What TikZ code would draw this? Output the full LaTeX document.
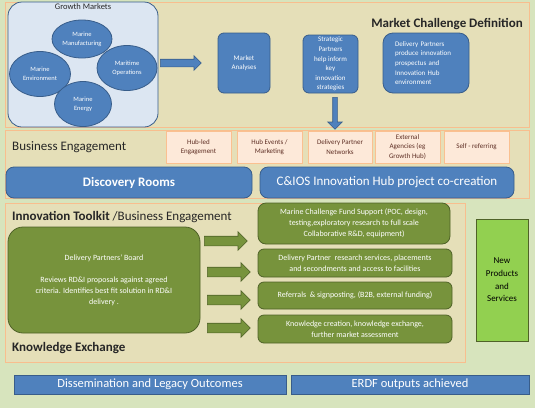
\documentclass[tikz,border=0pt]{standalone}
\usepackage{fontspec}
\setmainfont{Carlito}
\usetikzlibrary{shapes.geometric,shapes.arrows}
\definecolor{bg}{HTML}{D7E4BD}
\definecolor{panel}{HTML}{E5DFB8}
\definecolor{panelb}{HTML}{F8BE8E}
\definecolor{myblue}{HTML}{4F81BD}
\definecolor{bluedk}{HTML}{385D8A}
\definecolor{lblue}{HTML}{DCE6F2}
\definecolor{mygreen}{HTML}{77933C}
\definecolor{greendk}{HTML}{4F6228}
\definecolor{brgreen}{HTML}{92D050}
\definecolor{pinkfill}{HTML}{FDE9D9}
\definecolor{pinkb}{HTML}{FAC090}
\definecolor{pinktext}{HTML}{5E2E24}
\definecolor{darktext}{HTML}{262626}
\tikzset{
  panelbox/.style={draw=panelb, fill=panel, line width=1pt, inner sep=0pt},
  growthbox/.style={draw=bluedk, fill=lblue, line width=0.8pt, rounded corners=14pt, inner sep=0pt},
  bluebox/.style={draw=bluedk, fill=myblue, line width=0.8pt, text=white, rounded corners=6pt, align=center, inner sep=1pt, font=\fontsize{7}{9.6}\selectfont},
  market/.style={ellipse, draw=bluedk, fill=myblue, line width=0.8pt, text=white, align=center, inner sep=0pt, font=\fontsize{6.5}{9}\selectfont},
  pinkbox/.style={draw=pinkb, fill=pinkfill, line width=0.6pt, text=pinktext, align=center, inner sep=1pt, font=\fontsize{7}{9.6}\selectfont},
  widebox/.style={draw=bluedk, fill=myblue, line width=0.8pt, text=white, rounded corners=8pt, inner sep=0pt, font=\fontsize{13}{15}\selectfont},
  greenbox/.style={draw=greendk, fill=mygreen, line width=0.8pt, text=white, rounded corners=6pt, align=center, inner sep=1pt, font=\fontsize{8}{11}\selectfont},
  outbox/.style={draw=bluedk, fill=myblue, line width=0.8pt, text=white, inner sep=0pt, font=\fontsize{12.5}{14}\selectfont},
  title/.style={text=darktext, inner sep=0pt, anchor=west, font=\fontsize{13}{15}\selectfont},
  bluearrow/.style={single arrow, draw=bluedk, fill=myblue, line width=0.6pt, inner xsep=0pt, single arrow head extend=3.5pt},
  greenarrow/.style={single arrow, draw=greendk, fill=mygreen, line width=0.6pt, inner xsep=0pt, inner ysep=4.5pt, single arrow head extend=4.5pt, minimum height=43pt, anchor=west},
}
\begin{document}
\begin{tikzpicture}[x=1pt,y=-1pt]
\path[fill=bg] (0,0) rectangle (535,408);
\useasboundingbox (0,0) rectangle (535,408);

% Market Challenge Definition panel
\node[panelbox, minimum width=524pt, minimum height=125pt] (toppanel) at (267,64.5) {};
\node[growthbox, minimum width=150pt, minimum height=125pt] (growth) at (83,64.5) {};
\node[text=darktext, inner sep=0pt, anchor=north, font=\fontsize{8.5}{9}\selectfont] (gmlabel) at (83,3) {Growth Markets};
\node[market, minimum width=60pt, minimum height=38pt] (manuf) at (82,39) {Marine\\Manufacturing};
\node[market, minimum width=61pt, minimum height=45pt] (env) at (40,74) {Marine\\Environment};
\node[market, minimum width=60pt, minimum height=45pt] (ops) at (127,68) {Maritime\\Operations};
\node[market, minimum width=57pt, minimum height=45pt] (energy) at (83,104) {Marine\\Energy};
\node[bluearrow, inner ysep=3.5pt, minimum height=41pt, anchor=west] (arrowA) at (160,63) {};

\node[bluebox, minimum width=52pt, minimum height=60pt] (analyses) at (244,63) {Market\\Analyses};
\node[bluebox, minimum width=55pt, minimum height=58pt] (strategic) at (330.5,64) {Strategic\\Partners\\help inform\\key\\innovation\\strategies};
\node[bluebox, minimum width=86pt, minimum height=60pt, text width=62pt, align=left, rounded corners=10pt] (prospectus) at (426,63) {Delivery Partners\\produce innovation\\prospectus and\\Innovation Hub\\environment\\[3pt]};
\node[title, anchor=east, font=\fontsize{13}{15}\selectfont\bfseries] (mcd) at (523,24) {Market Challenge Definition};
\node[bluearrow, inner ysep=2pt, single arrow head extend=5pt, minimum height=32pt, rotate=-90, anchor=west] (arrowB) at (335,97) {};

% Business Engagement panel
\node[panelbox, minimum width=524pt, minimum height=68pt] (bepanel) at (267,164) {};
\node[title] (belabel) at (12,147) {Business Engagement};
\node[pinkbox, minimum width=65pt, minimum height=32pt] (hubled) at (198.5,147) {Hub-led\\Engagement};
\node[pinkbox, minimum width=65pt, minimum height=32pt] (hubevents) at (269.5,147) {Hub Events /\\Marketing};
\node[pinkbox, minimum width=64pt, minimum height=32pt] (dpnet) at (340,147) {Delivery Partner\\Networks};
\node[pinkbox, minimum width=65pt, minimum height=32pt] (external) at (407.5,147) {External\\Agencies (eg\\Growth Hub)};
\node[pinkbox, minimum width=65pt, minimum height=32pt] (selfref) at (476.5,147) {Self - referring};
\node[widebox, minimum width=246pt, minimum height=31pt, font=\fontsize{13}{15}\selectfont\bfseries] (discovery) at (129,182.5) {Discovery Rooms};
\node[widebox, minimum width=254pt, minimum height=31pt] (cios) at (387,182.5) {C\&IOS Innovation Hub project co-creation};

% Innovation Toolkit panel
\node[panelbox, minimum width=460pt, minimum height=159pt] (itpanel) at (235,282.5) {};
\node[title] (itlabel) at (12,217) {\textbf{Innovation Toolkit} /Business Engagement};
\node[title, font=\fontsize{13}{15}\selectfont\bfseries] (kelabel) at (12,348) {Knowledge Exchange};
\node[greenbox, minimum width=192pt, minimum height=106pt, rounded corners=15pt] (board) at (104,280) {Delivery Partners’ Board\\[11pt]Reviews RD\&I proposals against agreed\\criteria. Identifies best fit solution in RD\&I\\delivery .};
\node[greenarrow] (ga1) at (204,241) {};
\node[greenarrow] (ga2) at (207,272) {};
\node[greenarrow] (ga3) at (207,300) {};
\node[greenarrow] (ga4) at (207,328) {};
\node[greenbox, minimum width=192pt, minimum height=41pt, rounded corners=8pt] (fund) at (354,223.5) {Marine Challenge Fund Support (POC, design,\\testing,exploratory research to full scale\\Collaborative R\&D, equipment)};
\node[greenbox, minimum width=194pt, minimum height=28pt] (research) at (355,263) {Delivery Partner\ \ research services, placements\\and secondments and access to facilities};
\node[greenbox, minimum width=194pt, minimum height=27pt] (referrals) at (355,295.5) {Referrals\ \ \& signposting, (B2B, external funding)};
\node[greenbox, minimum width=194pt, minimum height=28pt] (knowledge) at (355,329) {Knowledge creation, knowledge exchange,\\further market assessment};
\node[draw=greendk, fill=brgreen, line width=0.8pt, text=black, align=center, inner sep=0pt, minimum width=52pt, minimum height=122pt, font=\fontsize{9}{12.7}\selectfont] (newprod) at (502,280) {New\\Products\\and\\Services};

% Outputs
\node[outbox, minimum width=272pt, minimum height=19pt] (dissem) at (150,384.5) {Dissemination and Legacy Outcomes};
\node[outbox, minimum width=238pt, minimum height=19pt] (erdf) at (410,384.5) {ERDF outputs achieved};
\end{tikzpicture}
\end{document}
